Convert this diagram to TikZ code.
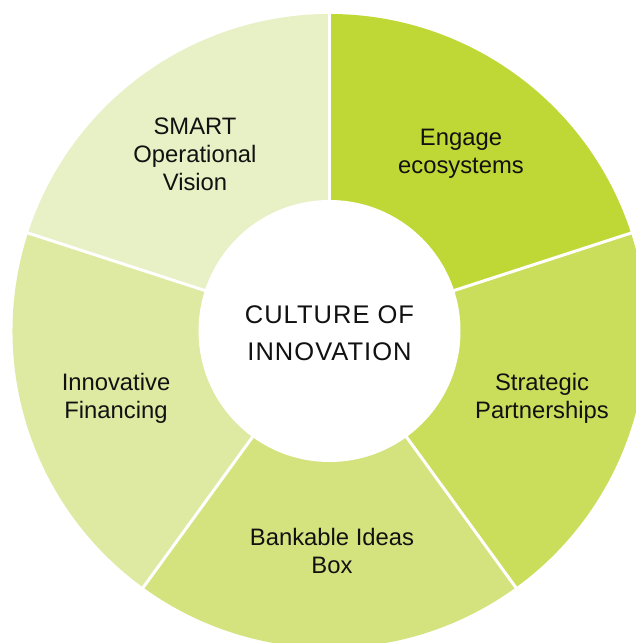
\documentclass[tikz,border=0pt]{standalone}
\usepackage{fontspec}
\setmainfont{Liberation Sans}
\usetikzlibrary{calc}
\definecolor{segA}{HTML}{BFD836}
\definecolor{segB}{HTML}{CADE5B}
\definecolor{segC}{HTML}{D4E37D}
\definecolor{segD}{HTML}{DEE9A1}
\definecolor{segE}{HTML}{E8F0C5}
\definecolor{ink}{HTML}{111111}
\tikzset{
  seglabel/.style={align=center, text=ink, inner sep=0pt,
    font=\fontsize{23.8}{28}\selectfont},
  hublabel/.style={align=center, text=ink, inner sep=0pt,
    font=\addfontfeatures{LetterSpace=4}\fontsize{25.5}{37}\selectfont},
  divider/.style={white, line width=3pt}
}
\begin{document}
\begin{tikzpicture}[x=1pt,y=1pt]
  \useasboundingbox (0,0) rectangle (636,643);
  \clip (0,0) rectangle (636,643);
  \fill[white] (0,0) rectangle (636,643);
  \coordinate (c) at (329.5,312);
  % ring sectors, clockwise from the top
  \fill[segA] (c) -- ++(18:317pt) arc[start angle=18, end angle=90, radius=317pt] -- cycle;
  \fill[segB] (c) -- ++(-54:317pt) arc[start angle=-54, end angle=18, radius=317pt] -- cycle;
  \fill[segC] (c) -- ++(-126:317pt) arc[start angle=-126, end angle=-54, radius=317pt] -- cycle;
  \fill[segD] (c) -- ++(162:317pt) arc[start angle=162, end angle=234, radius=317pt] -- cycle;
  \fill[segE] (c) -- ++(90:317pt) arc[start angle=90, end angle=162, radius=317pt] -- cycle;
  % white gaps between sectors
  \foreach \a in {90,18,-54,-126,162}
    \draw[divider] (c) -- ++(\a:330pt);
  % hub
  \fill[white] (c) circle[radius=131pt];
  % labels
  \node[hublabel] (hub) at (329.5,310) {CULTURE OF\\INNOVATION};
  \node[seglabel] (engage) at (461,489) {Engage\\ecosystems};
  \node[seglabel] (strat) at (542,245) {Strategic\\Partnerships};
  \node[seglabel] (bank) at (332,92) {Bankable Ideas\\Box};
  \node[seglabel] (fin) at (116,245) {Innovative\\Financing};
  \node[seglabel] (smart) at (195,489) {SMART\\Operational\\Vision};
\end{tikzpicture}
\end{document}
